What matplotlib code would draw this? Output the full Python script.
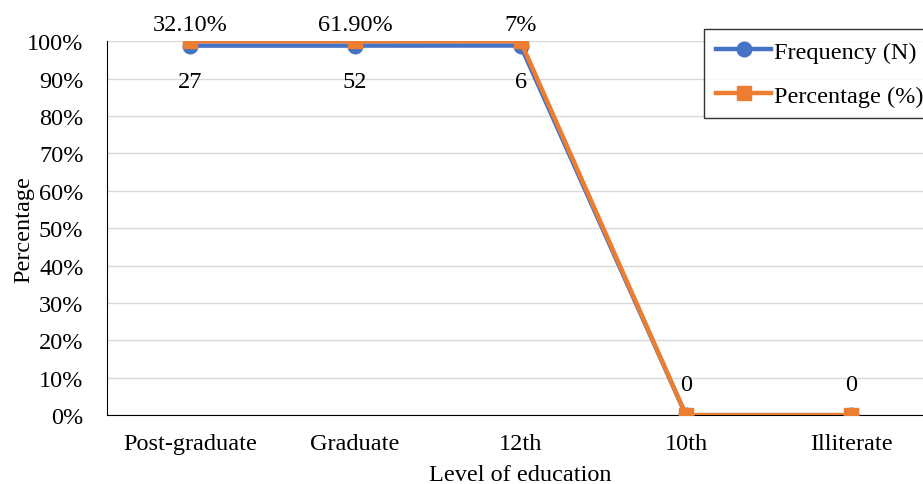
import matplotlib

matplotlib.use("Agg")

import matplotlib.pyplot as plt
import numpy as np
from matplotlib.ticker import PercentFormatter

levels = ["Post-graduate", "Graduate", "12th", "10th", "Illiterate"]
frequency = [27, 52, 6, 0, 0]
percentage = [32.10, 61.90, 7, 0, 0]
pct_labels = ["32.10%", "61.90%", "7%", "0", "0"]

plt.rcParams["font.family"] = ["Liberation Serif", "DejaVu Serif"]
FS = 17.5

# 100% stacked line: percentages are stored as fractions, so each point is
# the series' share of the stacked total
freq = np.array(frequency, dtype=float)
pct = np.array(percentage, dtype=float) / 100
total = freq + pct
share_freq = np.divide(freq, total, out=np.zeros_like(freq), where=total > 0)
share_pct = np.divide(freq + pct, total, out=np.zeros_like(freq), where=total > 0)

x = np.arange(len(levels))
blue = "#4472C4"
orange = "#ED7D31"

fig = plt.figure(figsize=(9.23, 4.85), dpi=100)
ax = fig.add_axes([0.116, 0.142, 0.896, 0.771])

ax.plot(x, share_freq, "-o", color=blue, lw=3.2, ms=10.5, label="Frequency (N)", zorder=3)
ax.plot(x, share_pct, "-s", color=orange, lw=3.2, ms=10.5, label="Percentage (%)", zorder=4)

for i in range(len(levels)):
    if total[i] > 0:
        ax.annotate(str(frequency[i]), (x[i], share_freq[i]), xytext=(0, -26),
                    textcoords="offset points", ha="center", va="center", fontsize=FS)
        ax.annotate(pct_labels[i], (x[i], share_pct[i]), xytext=(0, 12),
                    textcoords="offset points", ha="center", va="center", fontsize=FS)
    else:
        ax.annotate(str(frequency[i]), (x[i], share_freq[i]), xytext=(0, 22),
                    textcoords="offset points", ha="center", va="center", fontsize=FS)

ax.set_xlim(-0.5, len(levels) - 0.5)
ax.set_ylim(0, 1)
ax.set_yticks(np.linspace(0, 1, 11))
ax.yaxis.set_major_formatter(PercentFormatter(1.0, decimals=0))
ax.set_xticks(x)
ax.set_xticklabels(levels)
ax.tick_params(axis="both", length=0, labelsize=FS)
ax.tick_params(axis="x", pad=13)
ax.tick_params(axis="y", pad=17)
ax.grid(axis="y", color="#D9D9D9", lw=1)
ax.set_axisbelow(True)
for side in ["top", "right"]:
    ax.spines[side].set_visible(False)
ax.spines["left"].set_color("black")
ax.spines["bottom"].set_color("black")

ax.set_xlabel("Level of education", fontsize=FS, labelpad=7)
ax.set_ylabel("Percentage", fontsize=FS, labelpad=-5)

leg = ax.legend(loc="upper left", bbox_to_anchor=(0.722, 1.032), fontsize=FS,
                frameon=True, fancybox=False, edgecolor="black", handlelength=2.3,
                handletextpad=0.1, borderpad=0.47, labelspacing=0.9, borderaxespad=0)
leg.get_frame().set_linewidth(1.0)

fig.savefig("out.png", dpi=100)
